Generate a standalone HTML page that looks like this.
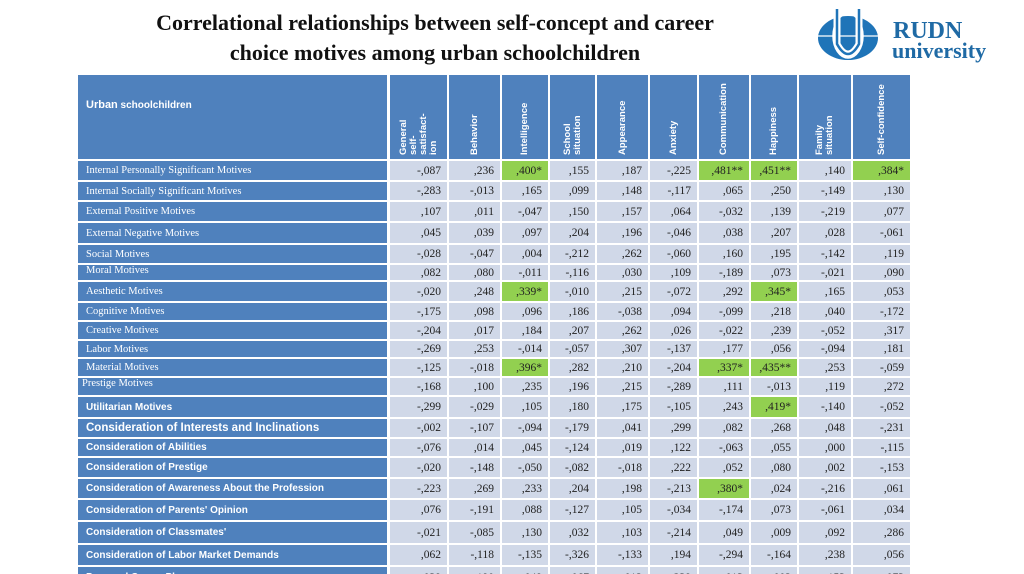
<!DOCTYPE html>
<html><head><meta charset="utf-8"><style>
html,body{margin:0;width:1024px;height:574px;overflow:hidden}
body{background:#fff;position:relative;font-family:"Liberation Serif",serif}
.t{position:absolute;left:60px;width:750px;top:8px;text-align:center;font:bold 22px/30px "Liberation Serif",serif;color:#111}
.c{position:absolute;box-sizing:border-box;font-size:11.5px;color:#222;text-align:right;padding-right:6px;white-space:nowrap;overflow:hidden}
.h{background:#4f81bd;color:#fff}
.v{background:#d0d8e8}
.g{background:#92d050}
.lab{color:#fff;text-align:left;padding-left:8px;font-size:10.5px}
.sans{font-family:"Liberation Sans",sans-serif;font-weight:bold;font-size:10px}
.rot{position:absolute;transform-origin:0 0;transform:rotate(-90deg);font:bold 9.5px/10px "Liberation Sans",sans-serif;color:#fff;white-space:nowrap;text-align:left}
</style></head><body>
<div class="t">Correlational relationships between self-concept and career<br>choice motives among urban schoolchildren</div>
<div style="position:absolute;left:813px;top:4px;width:205px;height:64px">
<svg width="205" height="64" viewBox="0 0 205 64">
<ellipse cx="35" cy="34" rx="30" ry="22" fill="#1f74b8"/>
<ellipse cx="35" cy="32" rx="15" ry="22" fill="none" stroke="#fff" stroke-width="1.5"/>
<line x1="5" y1="32" x2="65" y2="32" stroke="#fff" stroke-width="1.2"/>
<path d="M24 5 V40 Q35 60 46 40 V5" fill="none" stroke="#fff" stroke-width="7"/>
<path d="M24 5 V40 Q35 60 46 40 V5" fill="none" stroke="#1f74b8" stroke-width="2.5"/>
<text x="80" y="34" font-family="Liberation Serif,serif" font-weight="bold" font-size="24" fill="#1f6aa5">RUDN</text>
<text x="79" y="54" font-family="Liberation Serif,serif" font-weight="bold" font-size="22" fill="#1f6aa5">university</text>
</svg></div>
<div id="tbl"></div>
<script>
const colNames=["General self- satisfact- ion","Behavior","Intelligence","School situation","Appearance","Anxiety","Communication","Happiness","Family situation","Self-confidence"];
const rowNames=["Internal Personally Significant Motives","Internal Socially Significant Motives","External Positive Motives","External Negative Motives","Social Motives","Moral Motives","Aesthetic Motives","Cognitive Motives","Creative Motives","Labor Motives","Material Motives","Prestige Motives","Utilitarian Motives","Consideration of Interests and Inclinations","Consideration of Abilities","Consideration of Prestige","Consideration of Awareness About the Profession","Consideration of Parents' Opinion","Consideration of Classmates'","Consideration of Labor Market Demands","Personal Career Plan"];
const values=[
["-,087",",236",",400*",",155",",187","-,225",",481**",",451**",",140",",384*"],
["-,283","-,013",",165",",099",",148","-,117",",065",",250","-,149",",130"],
[",107",",011","-,047",",150",",157",",064","-,032",",139","-,219",",077"],
[",045",",039",",097",",204",",196","-,046",",038",",207",",028","-,061"],
["-,028","-,047",",004","-,212",",262","-,060",",160",",195","-,142",",119"],
[",082",",080","-,011","-,116",",030",",109","-,189",",073","-,021",",090"],
["-,020",",248",",339*","-,010",",215","-,072",",292",",345*",",165",",053"],
["-,175",",098",",096",",186","-,038",",094","-,099",",218",",040","-,172"],
["-,204",",017",",184",",207",",262",",026","-,022",",239","-,052",",317"],
["-,269",",253","-,014","-,057",",307","-,137",",177",",056","-,094",",181"],
["-,125","-,018",",396*",",282",",210","-,204",",337*",",435**",",253","-,059"],
["-,168",",100",",235",",196",",215","-,289",",111","-,013",",119",",272"],
["-,299","-,029",",105",",180",",175","-,105",",243",",419*","-,140","-,052"],
["-,002","-,107","-,094","-,179",",041",",299",",082",",268",",048","-,231"],
["-,076",",014",",045","-,124",",019",",122","-,063",",055",",000","-,115"],
["-,020","-,148","-,050","-,082","-,018",",222",",052",",080",",002","-,153"],
["-,223",",269",",233",",204",",198","-,213",",380*",",024","-,216",",061"],
[",076","-,191",",088","-,127",",105","-,034","-,174",",073","-,061",",034"],
["-,021","-,085",",130",",032",",103","-,214",",049",",009",",092",",286"],
[",062","-,118","-,135","-,326","-,133",",194","-,294","-,164",",238",",056"],
[",039",",190",",049",",067",",012",",239",",013",",002",",153",",073"]];
const colX=[390,449,502,550,597,650,699,751,799,853,912];
const rowY=[161,182,202,223,245,265,282,303,322,341,359,378,397,419,439,458,479,500,522,545,567,590];
const tbl=document.getElementById('tbl');
function mk(cls,x,y,w,h,txt){const d=document.createElement('div');d.className='c '+cls;d.style.left=x+'px';d.style.top=y+'px';d.style.width=w+'px';d.style.height=h+'px';d.style.lineHeight=(h+1)+'px';if(txt!==undefined)d.textContent=txt;tbl.appendChild(d);return d;}
const hd=mk('h lab sans',78,75,309,84);


hd.style.lineHeight='normal';hd.style.paddingTop='24px';hd.style.fontSize='10px';
hd.innerHTML='<span style="font-size:11px">Urban</span> schoolchildren';
colNames.forEach((n,i)=>{const w=colX[i+1]-colX[i]-2;const d=mk('h',colX[i],75,w,84);


const s=document.createElement('div');s.className='rot';s.style.top='80px';
let lines=1;
if(i===0){s.innerHTML='General<br>self-<br>satisfact-<br>ion';lines=4;}
else if(i===3||i===8){s.innerHTML=n.replace(' ','<br>');lines=2;}
else s.textContent=n;
s.style.left=Math.round(w/2-lines*5)+'px';
d.appendChild(s);});
rowNames.forEach((n,r)=>{const y=rowY[r],h=rowY[r+1]-y-2;
const l=mk('h lab'+(r>=12?' sans':''),78,y,309,h,n);


if(r===13){l.style.fontSize='11.5px';}
if(r===5||r===11){l.style.lineHeight='12px';l.style.paddingLeft=(r===11?'4px':'8px');}
values[r].forEach((v,c)=>{const cell=mk(v.includes('*')?'g':'v',colX[c],y,colX[c+1]-colX[c]-2,h,v);

});});
</script>
</body></html>
